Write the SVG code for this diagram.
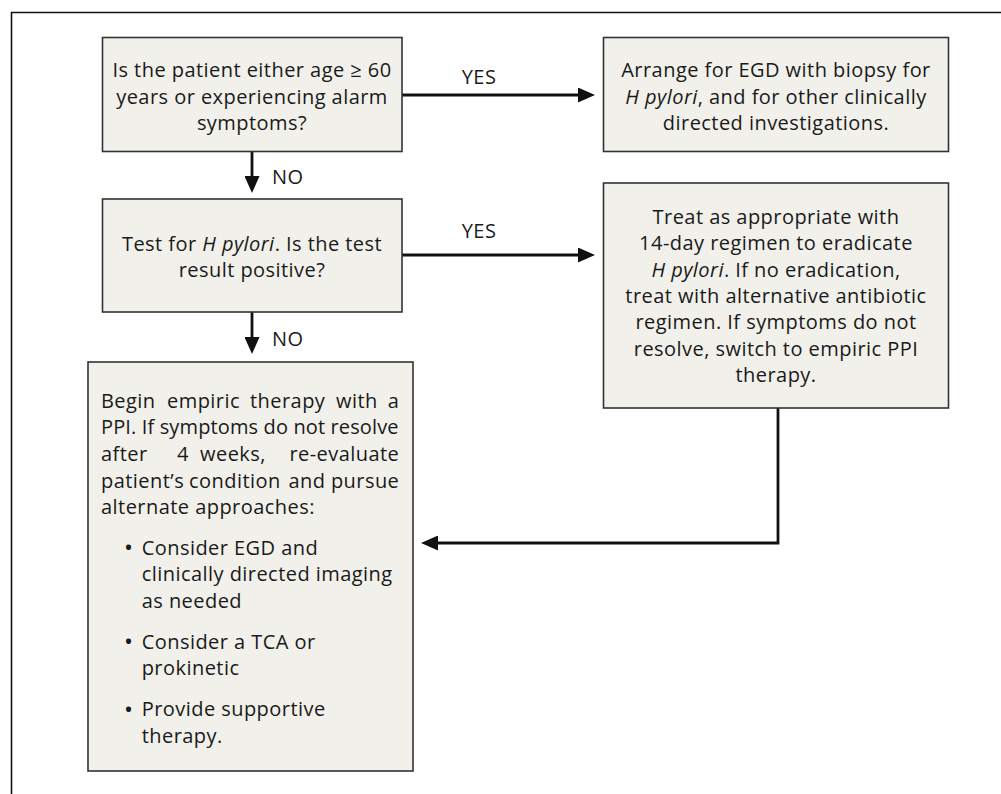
<svg xmlns="http://www.w3.org/2000/svg" width="1001" height="794" viewBox="0 0 1001 794">
<style>
.box{fill:#f1f0ea;stroke:#333;stroke-width:1.6}
.t{font-family:"Open Sans","Noto Sans","Liberation Sans",sans-serif;font-size:20px;letter-spacing:0.45px;fill:#1a1a1a}
.c{text-anchor:middle}
.i{font-style:italic}
.b{font-size:24px}
.conn{fill:none;stroke:#111;stroke-width:2.8}
.frame{fill:none;stroke:#111;stroke-width:1.6}
</style>
<defs>
<marker id="ah" markerUnits="userSpaceOnUse" markerWidth="17" markerHeight="15" refX="12" refY="7.5" orient="auto">
<path d="M0,0 L17,7.5 L0,15 Z" fill="#111"/>
</marker>
</defs>
<rect width="1001" height="794" fill="#fff"/>
<path class="frame" d="M11.5,794 V12.5 H1001"/>

<g id="connectors">
<line class="conn" x1="402" y1="95" x2="590" y2="95" marker-end="url(#ah)"/>
<line class="conn" x1="402" y1="255" x2="590" y2="255" marker-end="url(#ah)"/>
<line class="conn" x1="252" y1="151" x2="252" y2="188" marker-end="url(#ah)"/>
<line class="conn" x1="252" y1="312" x2="252" y2="349" marker-end="url(#ah)"/>
<path class="conn" d="M778,408 V543 H426" marker-end="url(#ah)"/>
<text class="t" x="479" y="83.5" text-anchor="middle">YES</text>
<text class="t" x="479" y="238" text-anchor="middle">YES</text>
<text class="t" x="272" y="184">NO</text>
<text class="t" x="272" y="346">NO</text>
</g>

<g id="q1">
<rect class="box" x="102.5" y="37.5" width="299.5" height="114"/>
<text class="t c" x="252" y="77">Is the patient either age ≥ 60</text>
<text class="t c" x="252" y="103.5">years or experiencing alarm</text>
<text class="t c" x="252" y="130">symptoms?</text>
</g>

<g id="egd">
<rect class="box" x="603.5" y="37.5" width="345" height="114"/>
<text class="t c" x="776" y="77">Arrange for EGD with biopsy for</text>
<text class="t c" x="776" y="103.5"><tspan class="i">H pylori</tspan>, and for other clinically</text>
<text class="t c" x="776" y="130">directed investigations.</text>
</g>

<g id="q2">
<rect class="box" x="102.5" y="199" width="299.5" height="113"/>
<text class="t c" x="252" y="250.5">Test for <tspan class="i">H pylori</tspan>. Is the test</text>
<text class="t c" x="252" y="277">result positive?</text>
</g>

<g id="treat">
<rect class="box" x="603.5" y="183" width="345" height="225"/>
<text class="t c" x="776" y="224">Treat as appropriate with</text>
<text class="t c" x="776" y="250">14-day regimen to eradicate</text>
<text class="t c" x="776" y="276.5"><tspan class="i">H pylori</tspan>. If no eradication,</text>
<text class="t c" x="776" y="302.5">treat with alternative antibiotic</text>
<text class="t c" x="776" y="329">regimen. If symptoms do not</text>
<text class="t c" x="776" y="355.5">resolve, switch to empiric PPI</text>
<text class="t c" x="776" y="382">therapy.</text>
</g>

<g id="empiric">
<rect class="box" x="88" y="362" width="325" height="409"/>
<text class="t" y="407.5"><tspan x="101">Begin</tspan><tspan x="167">empiric</tspan><tspan x="250">therapy</tspan><tspan x="336">with</tspan><tspan x="399.3" text-anchor="end">a</tspan></text>
<text class="t" x="101" y="434" textLength="298" lengthAdjust="spacing">PPI. If symptoms do not resolve</text>
<text class="t" y="461"><tspan x="101">after</tspan><tspan x="177">4</tspan><tspan x="200">weeks,</tspan><tspan x="399.3" text-anchor="end">re-evaluate</tspan></text>
<text class="t" y="487.5"><tspan x="101">patient’s</tspan><tspan x="189">condition</tspan><tspan x="288.5">and</tspan><tspan x="399.3" text-anchor="end">pursue</tspan></text>
<text class="t" x="101" y="514">alternate approaches:</text>
<text class="t b" x="124" y="556">•</text>
<text class="t" x="141.7" y="554.5">Consider EGD and</text>
<text class="t" x="141.7" y="581">clinically directed imaging</text>
<text class="t" x="141.7" y="607.5">as needed</text>
<text class="t b" x="124" y="650">•</text>
<text class="t" x="141.7" y="648.5">Consider a TCA or</text>
<text class="t" x="141.7" y="675">prokinetic</text>
<text class="t b" x="124" y="717.5">•</text>
<text class="t" x="141.7" y="716">Provide supportive</text>
<text class="t" x="141.7" y="742.5">therapy.</text>
</g>
</svg>
